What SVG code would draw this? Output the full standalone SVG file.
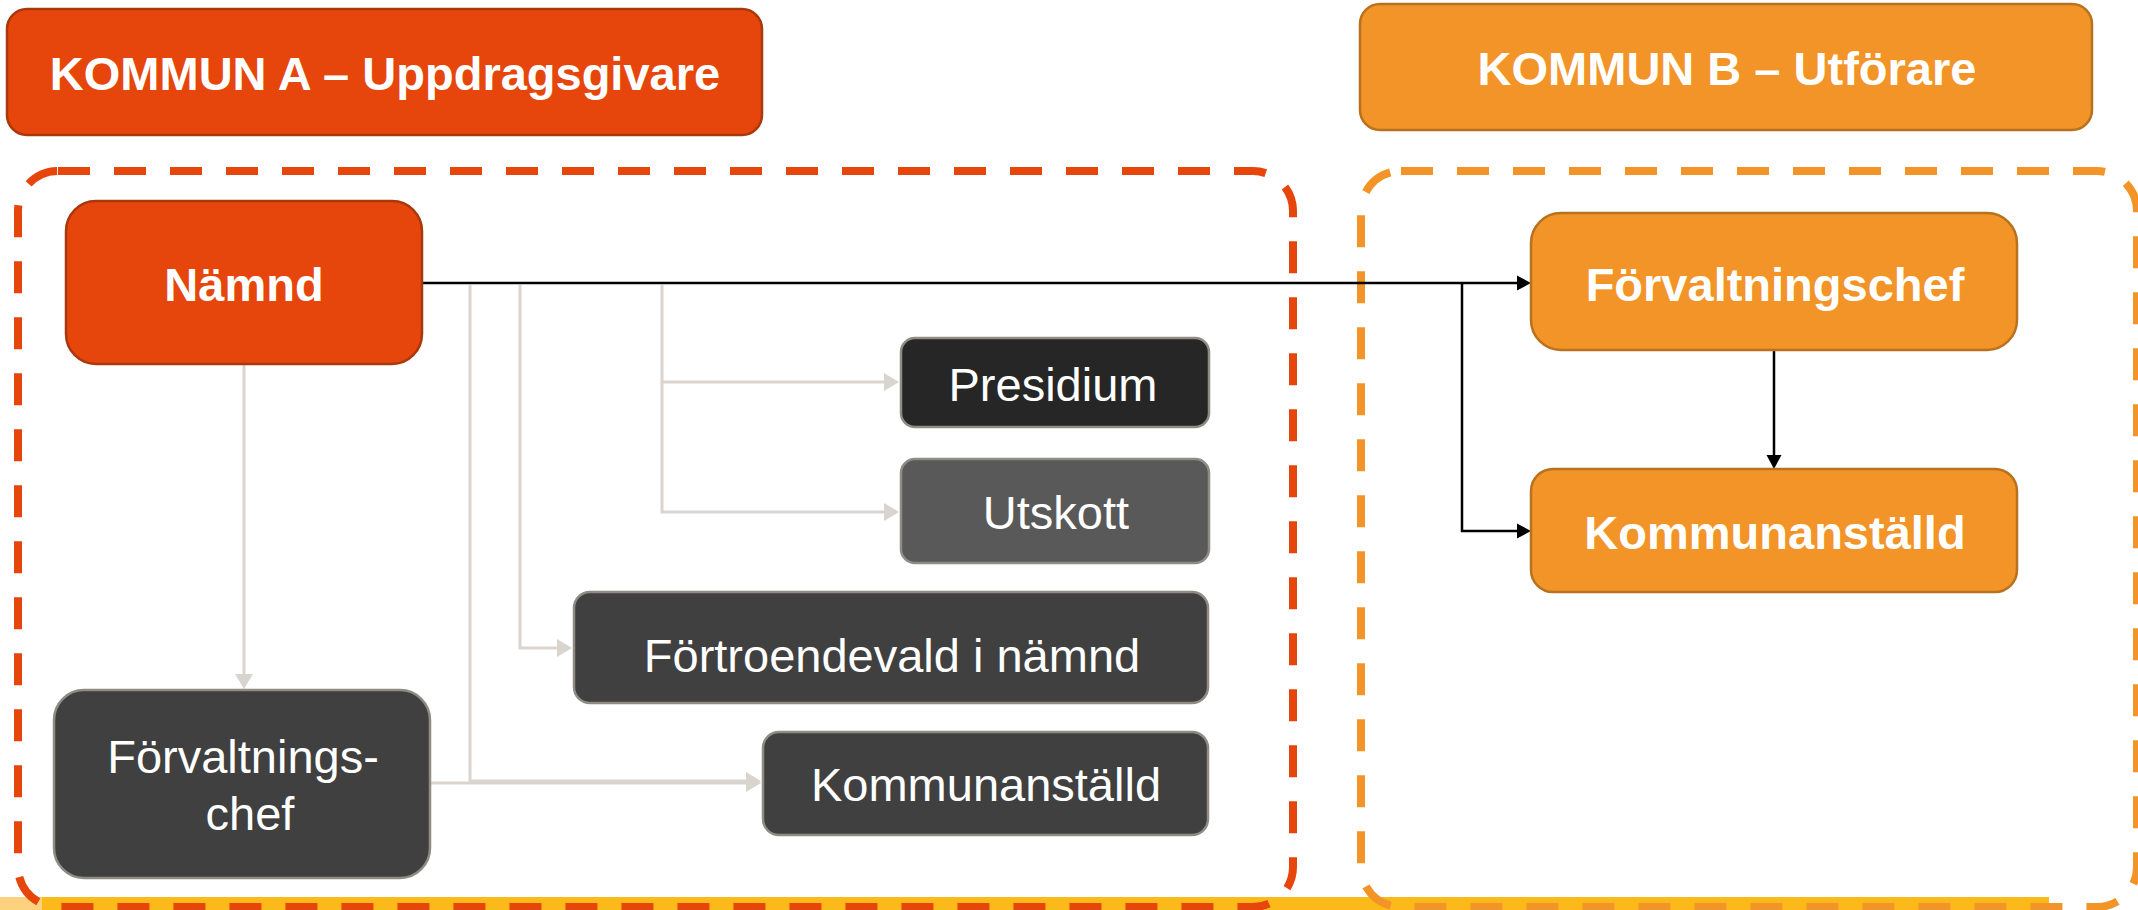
<svg xmlns="http://www.w3.org/2000/svg" width="2138" height="910" viewBox="0 0 2138 910">
<style>
text{font-family:"Liberation Sans",Arial,sans-serif;font-size:47px;fill:#fff;text-anchor:middle}
.b{font-weight:bold}
.red{fill:#E6460B;stroke:#A9380C;stroke-width:2.5}
.org{fill:#F29427;stroke:#B8721F;stroke-width:2.5}
.dk{fill:#404040;stroke:#8F8B85;stroke-width:2.5}
.blk{fill:none;stroke:#000;stroke-width:2.5}
.gry{fill:none;stroke:#D9D4CD;stroke-width:3}
</style>
<defs>
<marker id="ab" markerUnits="userSpaceOnUse" markerWidth="15" markerHeight="16" refX="0" refY="8" orient="auto"><path d="M0,0.5 L14,8 L0,15.5 z" fill="#000"/></marker>
<marker id="ag" markerUnits="userSpaceOnUse" markerWidth="16" markerHeight="19" refX="0" refY="9.5" orient="auto"><path d="M0,0.5 L15,9.5 L0,18.5 z" fill="#D9D4CD"/></marker>
</defs>
<rect x="0" y="0" width="2138" height="910" fill="#fff"/>
<g id="band">
<rect x="0" y="897" width="2049" height="13" fill="#FBBA1A"/>
<rect x="0" y="897" width="42" height="13" fill="#FDD27E"/>
</g>
<g id="containers" fill="none" stroke-width="8" stroke-dasharray="32 24">
<rect id="containerA" x="18" y="171" width="1275" height="736" rx="40" stroke="#E6460B"/>
<rect id="containerB" x="1361" y="171" width="776" height="736" rx="40" stroke="#F29427"/>
</g>
<g id="kommunA"><rect class="red" x="7" y="9" width="755" height="126" rx="20"/><text class="b" x="385" y="90">KOMMUN A – Uppdragsgivare</text></g>
<g id="kommunB"><rect class="org" x="1360" y="4" width="732" height="126" rx="20"/><text class="b" x="1727" y="85">KOMMUN B – Utförare</text></g>
<g id="connectors">
<path class="gry" d="M244,365 V674" marker-end="url(#ag)"/>
<path class="gry" d="M662,285 V512 H884" marker-end="url(#ag)"/>
<path class="gry" d="M662,382 H884" marker-end="url(#ag)"/>
<path class="gry" d="M520,285 V648 H557" marker-end="url(#ag)"/>
<path class="gry" d="M470,285 V781 H746" marker-end="url(#ag)"/>
<path class="gry" d="M424,783 H746" marker-end="url(#ag)"/>
<path class="blk" d="M422,283 H1517" marker-end="url(#ab)"/>
<path class="blk" d="M1462,283 V531 H1517" marker-end="url(#ab)"/>
<path class="blk" d="M1774,351 V455" marker-end="url(#ab)"/>
</g>
<g id="namnd"><rect class="red" x="66" y="201" width="356" height="163" rx="30"/><text class="b" x="244" y="301">Nämnd</text></g>
<g id="presidium"><rect class="dk" x="901" y="338" width="308" height="89" rx="14" fill="#262626" style="fill:#262626"/><text x="1053" y="401">Presidium</text></g>
<g id="utskott"><rect class="dk" x="901" y="459" width="308" height="104" rx="14" style="fill:#595959"/><text x="1056" y="529">Utskott</text></g>
<g id="fortroendevald"><rect class="dk" x="574" y="592" width="634" height="111" rx="16"/><text x="892" y="672">Förtroendevald i nämnd</text></g>
<g id="kommunanstalldA"><rect class="dk" x="763" y="732" width="445" height="103" rx="16"/><text x="986" y="801">Kommunanställd</text></g>
<g id="forvaltningschefA"><rect class="dk" x="54" y="690" width="376" height="188" rx="30"/><text x="243" y="773">Förvaltnings-</text><text x="250" y="830">chef</text></g>
<g id="forvaltningschefB"><rect class="org" x="1531" y="213" width="486" height="137" rx="30"/><text class="b" x="1775" y="301">Förvaltningschef</text></g>
<g id="kommunanstalldB"><rect class="org" x="1531" y="469" width="486" height="123" rx="22"/><text class="b" x="1775" y="549">Kommunanställd</text></g>
</svg>
